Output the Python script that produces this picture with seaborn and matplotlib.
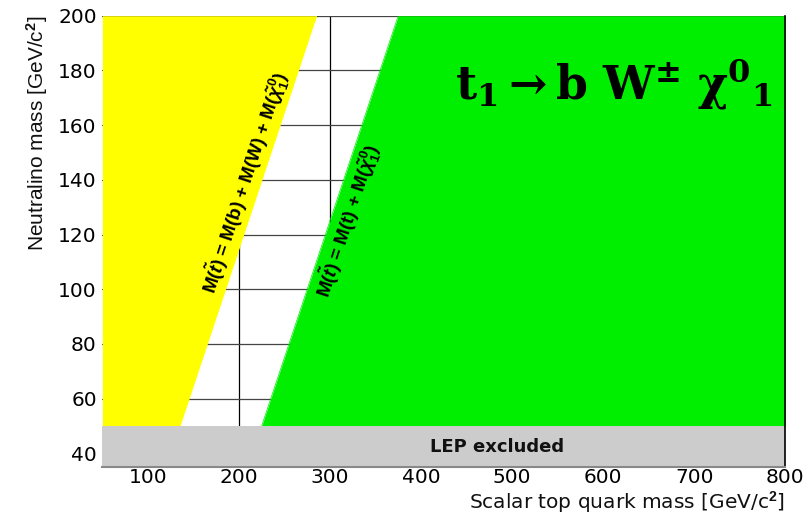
import matplotlib
matplotlib.use("Agg")
import matplotlib.pyplot as plt
import seaborn as sns
import numpy as np
import pandas as pd
from matplotlib import font_manager as fm

# ---- data ----
neutralino_mass = [50, 200]          # y extent of kinematic regions
m_b = 4.8
m_W = 80.4
m_t = 175.0
lep_limit = 50
x_range = [50, 800]
y_range = [35, 200]
x_ticks = [100, 200, 300, 400, 500, 600, 700, 800]
y_ticks = [40, 60, 80, 100, 120, 140, 160, 180, 200]
grid_x = [200, 300]
grid_y = [60, 80, 100, 120, 140, 160, 180, 200]

sns.set_theme(style="white")
plt.rcParams['font.family'] = ['DejaVu Sans']
plt.rcParams['text.color'] = 'black'
plt.rcParams['mathtext.fontset'] = 'custom'
plt.rcParams['mathtext.rm'] = 'Liberation Sans:bold'
plt.rcParams['mathtext.it'] = 'Liberation Sans:bold:italic'
plt.rcParams['mathtext.bf'] = 'Liberation Sans:bold'

names = {f.name for f in fm.fontManager.ttflist}
narrow = 'Liberation Sans Narrow' if 'Liberation Sans Narrow' in names else 'Liberation Sans'

fig = plt.figure(figsize=(8.12, 5.14), dpi=100)
ax = fig.add_axes([0.126, 0.0914, 0.841, 0.878])

y = np.array(neutralino_mass, dtype=float)
df = pd.DataFrame({
    "y": y,
    "x_yellow": m_b + m_W + y,
    "x_green": m_t + y,
})

# grid (below fills)
for gx in grid_x:
    ax.axvline(gx, color='black', lw=0.9, zorder=0.5)
for gy in grid_y:
    ax.axhline(gy, color='#444444', lw=0.9, zorder=0.5)

# yellow region: left of x = mb + mW + mchi
ax.fill_betweenx(df["y"], x_range[0], df["x_yellow"], color='#ffff00', lw=0, zorder=2)
# green region: right of x = mt + mchi
ax.fill_betweenx(df["y"], df["x_green"], x_range[1], color='#00ee00', lw=0, zorder=2)
sns.lineplot(data=df, x="x_yellow", y="y", color='#ffff00', lw=0.5, ax=ax, zorder=2, sort=False)
sns.lineplot(data=df, x="x_green", y="y", color='#00ee00', lw=0.5, ax=ax, zorder=2, sort=False)
# LEP band
ax.fill_between(x_range, y_range[0], lep_limit, color='#cccccc', lw=0, zorder=2.2)

ax.set_xlim(*x_range)
ax.set_ylim(*y_range)
ax.set_xticks(x_ticks)
ax.set_yticks(y_ticks)
ax.tick_params(axis='both', length=0, labelsize=14.5, labelcolor='black')
ax.tick_params(axis='x', pad=1)
ax.tick_params(axis='y', pad=4)

ax.set_xlabel("Scalar top quark mass [GeV/c$^2$]", loc='right', fontsize=14.5,
              labelpad=1, color='#111111', family='DejaVu Sans')
ax.set_ylabel("Neutralino mass [GeV/c$^2$]", loc='top', fontsize=15,
              labelpad=6, color='#111111', family=narrow)

ax.spines['left'].set_visible(False)
ax.spines['top'].set_visible(False)
ax.spines['right'].set_color('black')
ax.spines['right'].set_linewidth(1.2)
ax.spines['right'].set_zorder(5)
ax.spines['bottom'].set_color('#888888')
ax.spines['bottom'].set_linewidth(1.5)
ax.spines['bottom'].set_zorder(5)

# boundary labels
ang = np.degrees(np.arctan2(409, 135))
ax.text(207, 139, r"M($\tilde{t}$) = M(b) + M(W) + M($\tilde{\chi}^0_1$)", rotation=ang,
        rotation_mode='anchor', ha='center', va='center', fontsize=13.5,
        fontweight='bold', family=narrow, color='black', zorder=6)
ax.text(320, 125, r"M($\tilde{t}$) = M(t) + M($\tilde{\chi}^0_1$)", rotation=ang,
        rotation_mode='anchor', ha='center', va='center', fontsize=13.5,
        fontweight='bold', family=narrow, color='black', zorder=6)

# process label
ax.text(612, 175, r"$\mathbf{t_1 \rightarrow b\ W^{\pm}\ \chi^{0}{}_{1}}$", ha='center', va='center',
        fontsize=33, color='black', zorder=6, math_fontfamily='dejavuserif')

ax.text(483, 42.5, "LEP excluded", ha='center', va='center', fontsize=13,
        fontweight='bold', family='DejaVu Sans', color='#111111', zorder=6)

fig.savefig("out.png", dpi=100)
